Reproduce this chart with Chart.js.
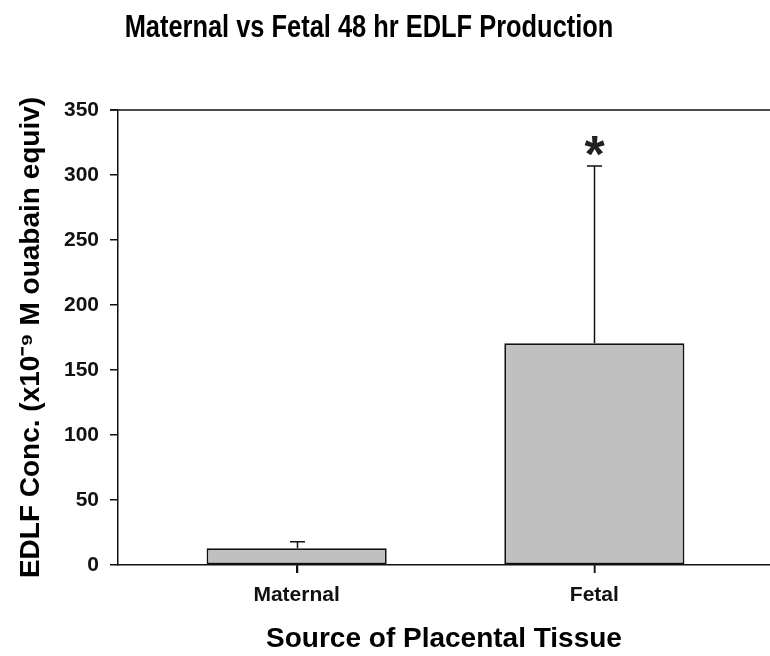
<!DOCTYPE html>
<html>
<head>
<meta charset="utf-8">
<script src="https://cdn.jsdelivr.net/npm/chart.js@4"></script>
<style>
html,body{margin:0;padding:0;background:#fff;}
#wrap{width:770px;height:656px;position:relative;}
</style>
</head>
<body>
<div id="wrap"><canvas id="c" width="770" height="656"></canvas></div>
<script>
const chartTitle = "Maternal vs Fetal 48 hr EDLF Production";
const categories = ["Maternal", "Fetal"];
const means = [12.8, 170.5];
const errors = [5.1, 136.4];
const marks = ["", "*"];
const yTicks = [0, 50, 100, 150, 200, 250, 300, 350];
const xTitle = "Source of Placental Tissue";
const yTitle = "EDLF Conc. (x10\u207B\u2079 M ouabain equiv)";

const FONT = "'Liberation Sans', Arial, sans-serif";

const extras = {
  id: 'extras',
  afterDatasetsDraw(chart) {
    const ctx = chart.ctx;
    const xs = chart.scales.x, ys = chart.scales.y;
    const area = chart.chartArea;
    ctx.save();
    ctx.strokeStyle = '#111';
    ctx.lineWidth = 1.5;
    // frame top line
    ctx.beginPath();
    ctx.moveTo(area.left - 8, area.top);
    ctx.lineTo(area.right, area.top);
    ctx.stroke();
    // category tick marks below the x axis
    categories.forEach((c, i) => {
      const px = Math.round(xs.getPixelForValue(i + 1)) + 0.5;
      ctx.beginPath();
      ctx.moveTo(px, area.bottom);
      ctx.lineTo(px, area.bottom + 8);
      ctx.stroke();
    });
    // error bars (upper)
    means.forEach((m, i) => {
      const px = Math.round(xs.getPixelForValue(i + 1)) + 0.5;
      const y0 = ys.getPixelForValue(m);
      const y1 = ys.getPixelForValue(m + errors[i]);
      ctx.beginPath();
      ctx.moveTo(px, y0);
      ctx.lineTo(px, y1);
      ctx.moveTo(px - 7.5, y1);
      ctx.lineTo(px + 7.5, y1);
      ctx.stroke();
      if (marks[i]) {
        ctx.fillStyle = '#222';
        ctx.font = "bold 52px " + FONT;
        ctx.textAlign = 'center';
        ctx.textBaseline = 'alphabetic';
        const mt = ctx.measureText(marks[i]);
        const a = mt.actualBoundingBoxAscent, d = mt.actualBoundingBoxDescent;
        const cy = y1 - 20.5;
        ctx.fillText(marks[i], px, cy + (a - d) / 2);
      }
    });
    // chart title (condensed)
    ctx.fillStyle = '#000';
    ctx.font = "bold 31px " + FONT;
    ctx.textAlign = 'center';
    ctx.textBaseline = 'alphabetic';
    ctx.translate(369, 37);
    ctx.scale(0.82, 1);
    ctx.fillText(chartTitle, 0, 0);
    ctx.restore();
  }
};

new Chart(document.getElementById('c'), {
  type: 'bar',
  data: {
    datasets: [{
      data: categories.map((c, i) => ({x: i + 1, y: means[i]})),
      backgroundColor: '#c0c0c0',
      borderColor: '#111',
      borderWidth: 1.8,
      borderSkipped: false,
      categoryPercentage: 1,
      barPercentage: 0.605
    }]
  },
  options: {
    responsive: false,
    animation: false,
    devicePixelRatio: 1,
    layout: {padding: {top: 110, right: 0, left: 0, bottom: 0}},
    plugins: {legend: {display: false}, tooltip: {enabled: false}, title: {display: false}},
    scales: {
      x: {
        type: 'linear',
        min: 0.4,
        max: 2.59,
        offset: false,
        afterBuildTicks: (s) => { s.ticks = categories.map((c, i) => ({value: i + 1})); },
        afterFit: (s) => { s.height = 91; },
        ticks: {
          callback: (v) => categories[Math.round(v) - 1] || '',
          color: '#111',
          font: {family: FONT, size: 21, weight: 'bold'},
          padding: 10,
          maxRotation: 0
        },
        grid: {offset: false, drawOnChartArea: false, drawTicks: true, tickLength: 8, color: '#111', lineWidth: 1.5},
        border: {display: true, color: '#111', width: 1.5},
        title: {display: true, text: xTitle, color: '#000', font: {family: FONT, size: 28, weight: 'bold'}, padding: {top: 0, bottom: 0}}
      },
      y: {
        min: 0,
        max: 350,
        afterBuildTicks: (s) => { s.ticks = yTicks.map(v => ({value: v})); },
        afterFit: (s) => { s.width = 118; },
        ticks: {
          color: '#111',
          font: {family: FONT, size: 21, weight: 'bold'},
          padding: 11
        },
        grid: {drawOnChartArea: false, drawTicks: true, tickLength: 8, color: '#111', lineWidth: 1.5},
        border: {display: true, color: '#111', width: 1.5},
        title: {display: true, text: yTitle, color: '#000', font: {family: FONT, size: 28, weight: 'bold'}, padding: {top: 14, bottom: 0}}
      }
    }
  },
  plugins: [extras]
});
</script>
</body>
</html>
